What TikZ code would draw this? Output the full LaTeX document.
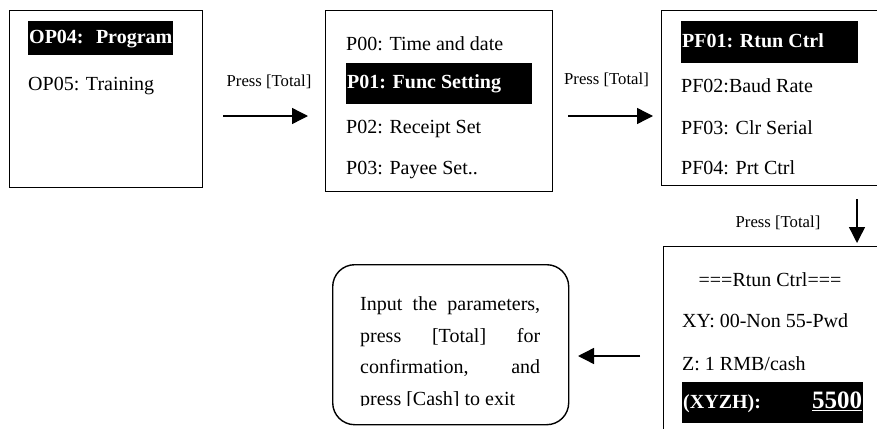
\documentclass[tikz,border=0pt]{standalone}
\usepackage{fontspec}
\setmainfont{Liberation Serif}
\usetikzlibrary{arrows.meta}
\tikzset{
  screen/.style={draw, line width=1.4pt, anchor=north west, inner sep=0pt},
  item/.style={anchor=west, inner sep=0pt, font=\fontsize{20}{24}\selectfont, text height=14pt, text depth=4pt},
  hlbox/.style={fill=black, anchor=north west, inner sep=0pt},
  hltext/.style={anchor=west, inner sep=0pt, text=white, font=\fontsize{20}{24}\selectfont\bfseries, text height=14pt, text depth=4pt},
  lbl/.style={font=\fontsize{16.7}{20}\selectfont, inner sep=0pt},
  arr/.style={line width=1.4pt, -{Triangle[length=16pt,width=16pt]}},
}
\begin{document}
\begin{tikzpicture}[x=1pt,y=-1pt]
\path[clip] (0,0) rectangle (877,428);
\fill[white] (0,0) rectangle (877,428);

% screen 1
\node[screen, minimum width=193pt, minimum height=177pt] (s1) at (9,10) {};
\node[hlbox, minimum width=145pt, minimum height=34pt] (h1) at (28,21) {};
\node[hltext] (t1a) at ([xshift=1pt]h1.west) {OP04:\hspace{0.62em}Program};
\node[item] (t1b) at (28,85) {OP05: Training};

% screen 2
\node[screen, minimum width=227pt, minimum height=181pt] (s2) at (325,10) {};
\node[item] (t2a) at (346,45) {P00: Time and date};
\node[hlbox, minimum width=186pt, minimum height=41pt] (h2) at (346,63) {};
\node[hltext] (t2b) at ([xshift=1pt]h2.west) {P01: Func Setting};
\node[item] (t2c) at (346,128) {P02: Receipt Set};
\node[item] (t2d) at (346,169) {P03: Payee Set..};

% screen 3
\node[screen, minimum width=240pt, minimum height=175pt] (s3) at (661,10) {};
\node[hlbox, minimum width=177pt, minimum height=42pt] (h3) at (681,21) {};
\node[hltext] (t3a) at ([xshift=1pt]h3.west) {PF01: Rtun Ctrl};
\node[item] (t3b) at (681,87) {PF02:Baud Rate};
\node[item] (t3c) at (681,129) {PF03: Clr Serial};
\node[item] (t3d) at (681,169) {PF04: Prt Ctrl};

% screen 4
\node[screen, minimum width=240pt, minimum height=200pt] (s4) at (663,246) {};
\node[item, anchor=center] (t4a) at (770,281) {===Rtun Ctrl===};
\node[item] (t4b) at (682,322) {XY: 00-Non 55-Pwd};
\node[item] (t4c) at (682,365) {Z: 1 RMB/cash};
\node[hlbox, minimum width=181pt, minimum height=41pt] (h4) at (682,382) {};
\node[hltext] (t4d) at ([xshift=1pt,yshift=-1pt]h4.west) {(XYZH):};
\node[hltext, anchor=east, font=\fontsize{25}{28}\selectfont\bfseries] (t4e) at ([xshift=-1pt,yshift=-1pt]h4.east) {\underline{5500}};

% note box
\node[draw, line width=1.4pt, rounded corners=22pt, anchor=north west, minimum width=236pt, minimum height=160pt, inner sep=0pt] (note) at (332,264) {};
\node[item] (n1) at (360,305) {\makebox[180pt][s]{Input the parameters,}};
\node[item] (n2) at (360,337) {\makebox[180pt][s]{press [Total] for}};
\node[item] (n3) at (360,368.5) {\makebox[180pt][s]{confirmation, and}};
\begin{scope}
\clip (340,380) rectangle (560,405.5);
\node[item] (n4) at (360,400) {press [Cash] to exit};
\end{scope}

% arrows
\coordinate (a1s) at (223,116); \coordinate (a1e) at (308,116);
\coordinate (a2s) at (568,116); \coordinate (a2e) at (653,116);
\coordinate (a3s) at (857,199); \coordinate (a3e) at (857,243);
\coordinate (a4s) at (640,356); \coordinate (a4e) at (578,356);
\draw[arr] (a1s) -- (a1e);
\draw[arr] (a2s) -- (a2e);
\draw[arr] (a3s) -- (a3e);
\draw[arr] (a4s) -- (a4e);
\node[lbl] (l1) at (269,82) {Press [Total]};
\node[lbl] (l2) at (606.5,80) {Press [Total]};
\node[lbl] (l3) at (778,223) {Press [Total]};
\end{tikzpicture}
\end{document}
